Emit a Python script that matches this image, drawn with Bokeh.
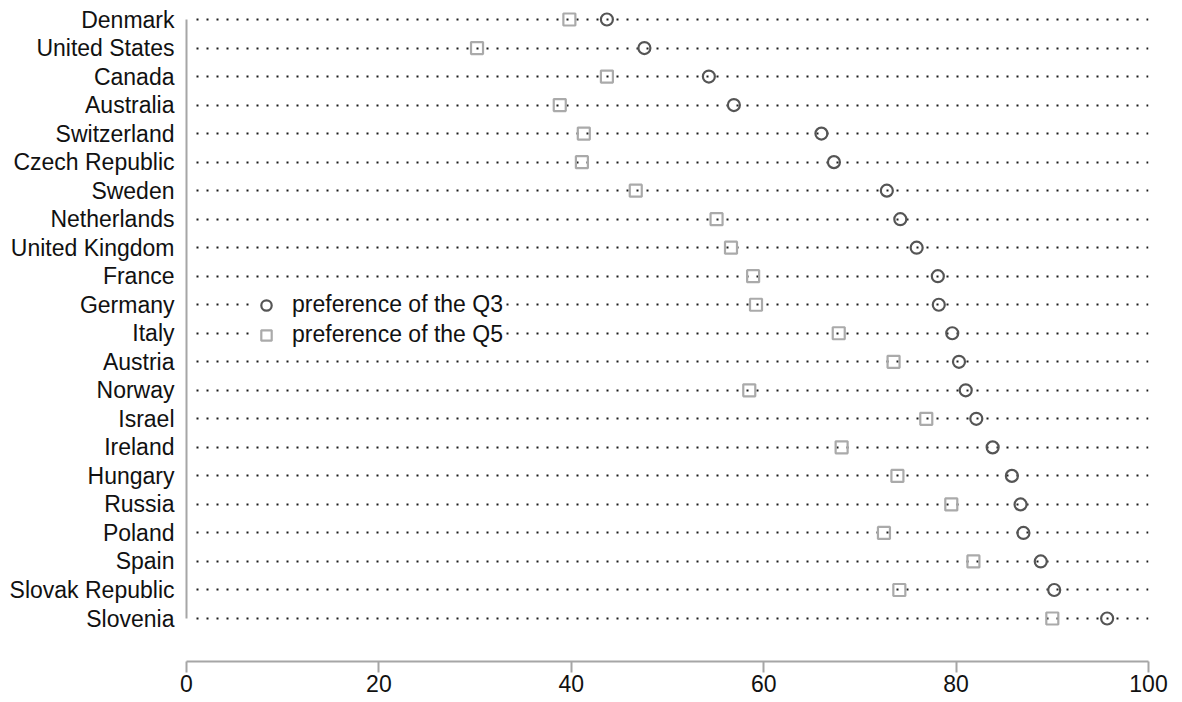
from bokeh.plotting import figure
from bokeh.models import FixedTicker, Range1d, Legend, LegendItem, ColumnDataSource
from bokeh.embed import file_html
from bokeh.resources import INLINE

countries = ["Denmark", "United States", "Canada", "Australia", "Switzerland",
             "Czech Republic", "Sweden", "Netherlands", "United Kingdom", "France",
             "Germany", "Italy", "Austria", "Norway", "Israel", "Ireland", "Hungary",
             "Russia", "Poland", "Spain", "Slovak Republic", "Slovenia"]
q3 = [43.7, 47.6, 54.3, 56.9, 66.0, 67.3, 72.8, 74.2, 75.9, 78.1, 78.2,
      79.6, 80.3, 81.0, 82.1, 83.8, 85.8, 86.7, 87.0, 88.8, 90.2, 95.7]
q5 = [39.8, 30.2, 43.7, 38.8, 41.3, 41.1, 46.7, 55.1, 56.6, 58.9, 59.2,
      67.8, 73.5, 58.5, 76.9, 68.1, 73.9, 79.5, 72.5, 81.8, 74.1, 90.0]
x_ticks = [0, 20, 40, 60, 80, 100]

n = len(countries)
ypos = [n - 1 - i for i in range(n)]
src = ColumnDataSource(dict(country=countries, y=ypos, q3=q3, q5=q5))

FONT = "Liberation Sans"

p = figure(width=1170, height=700, output_backend="svg", toolbar_location=None,
           x_range=Range1d(0, 100), y_range=Range1d(-1.5075, 21.386),
           min_border_left=186, min_border_right=22, min_border_top=8,
           min_border_bottom=39)
p.outline_line_color = None
p.background_fill_color = "white"

# dotted row guides
p.xgrid.visible = False
p.ygrid.ticker = FixedTicker(ticks=ypos)
p.ygrid.grid_line_color = "#1a1a1a"
p.ygrid.grid_line_width = 1.8
p.ygrid.grid_line_dash = "2 8"
p.ygrid.cross_bounds = (1.05, 100.3)

# y axis
p.yaxis.ticker = FixedTicker(ticks=ypos)
p.yaxis.major_label_overrides = {y: c for y, c in zip(ypos, countries)}
p.yaxis.bounds = (0, n - 1)
p.yaxis.axis_line_color = "#a6a6a6"
p.yaxis.axis_line_width = 2
p.yaxis.major_tick_line_color = None
p.yaxis.major_tick_in = 0
p.yaxis.major_tick_out = 0
p.yaxis.minor_tick_line_color = None
p.yaxis.minor_tick_in = 0
p.yaxis.minor_tick_out = 0
p.yaxis.major_label_standoff = 12
p.yaxis.major_label_text_font = FONT
p.yaxis.major_label_text_font_size = "23px"
p.yaxis.major_label_text_color = "#111111"

# x axis
p.xaxis.ticker = FixedTicker(ticks=x_ticks)
p.xaxis.axis_line_color = "#a6a6a6"
p.xaxis.axis_line_width = 2
p.xaxis.major_tick_line_color = "#a6a6a6"
p.xaxis.major_tick_line_width = 2
p.xaxis.major_tick_in = 0
p.xaxis.major_tick_out = 11
p.xaxis.minor_tick_line_color = None
p.xaxis.minor_tick_in = 0
p.xaxis.minor_tick_out = 0
p.xaxis.major_label_standoff = 2
p.xaxis.major_label_text_font = FONT
p.xaxis.major_label_text_font_size = "23px"
p.xaxis.major_label_text_color = "#111111"

r5 = p.scatter("q5", "y", source=src, marker="square", size=12,
               fill_color=None, line_color="#aaaaaa", line_width=2.2)
r3 = p.scatter("q3", "y", source=src, marker="circle", size=12,
               fill_color=None, line_color="#555555", line_width=2.2)

legend = Legend(items=[LegendItem(label="preference of the Q3", renderers=[r3]),
                       LegendItem(label="preference of the Q5", renderers=[r5])],
                location=(67, 313))
legend.margin = 0
legend.padding = 10
legend.spacing = 3
legend.glyph_width = 26
legend.glyph_height = 26
legend.label_height = 20
legend.label_standoff = 13
legend.label_text_font = FONT
legend.label_text_font_size = "23px"
legend.label_text_color = "#111111"
legend.background_fill_color = "white"
legend.background_fill_alpha = 1.0
legend.border_line_color = None
p.add_layout(legend)

open("out.html", "w").write(file_html(p, INLINE))
